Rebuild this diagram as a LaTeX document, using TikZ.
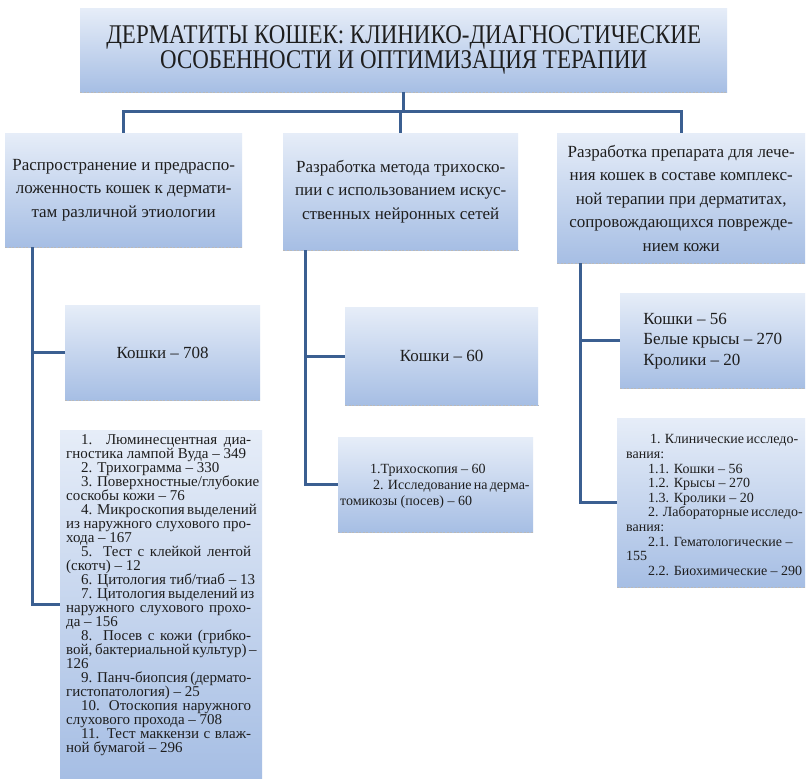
\documentclass[tikz,border=0pt]{standalone}
\usepackage{fontspec}
\setmainfont{Liberation Serif}
\newfontfamily\titlefont[FakeStretch=0.85]{Liberation Serif}
\definecolor{boxtop}{HTML}{E6EDF8}
\definecolor{boxbot}{HTML}{A6BEE4}
\definecolor{conn}{HTML}{3B5F91}
\definecolor{ink}{HTML}{1E1E1E}
\newcommand\myjust[2]{\makebox[#1][s]{#2}}
\lineskiplimit=-6pt\relax
\tikzset{
  box/.style={top color=boxtop, bottom color=boxbot, draw=none, inner sep=0pt, anchor=north west, text=ink},
  link/.style={draw=conn, line width=3pt},
  edge/.style={draw=gray!55, line width=1.2pt, dash pattern=on 2pt off 1.5pt},
  headtext/.style={align=center, font=\fontsize{17}{23.5}\selectfont},
  listtext/.style={anchor=north west, inner sep=0pt, align=left, text=ink},
}
\begin{document}
\begin{tikzpicture}[x=1pt,y=-1pt]
\useasboundingbox[fill=white] (0,0) rectangle (808,781);

% title
\node[box, minimum width=647pt, minimum height=84pt, align=center,
      font=\titlefont\fontsize{27}{25}\selectfont] (T) at (80,8)
  {ДЕРМАТИТЫ КОШЕК: КЛИНИКО-ДИАГНОСТИЧЕСКИЕ\\ОСОБЕННОСТИ И ОПТИМИЗАЦИЯ ТЕРАПИИ};

% headers
\node[box, headtext, minimum width=237pt, minimum height=114pt] (A) at (5,133)
  {Распространение и предраспо-\\ложенность кошек к дермати-\\там различной этиологии};
\node[box, headtext, minimum width=235pt, minimum height=117pt] (B) at (283,133)
  {Разработка метода трихоско-\\пии с использованием искус-\\ственных нейронных сетей};
\node[box, headtext, minimum width=248pt, minimum height=130pt] (C) at (557,133)
  {Разработка препарата для лече-\\ния кошек в составе комплекс-\\ной терапии при дерматитах,\\сопровождающихся поврежде-\\нием кожи};

% count boxes
\node[box, align=center, font=\fontsize{17}{20}\selectfont, minimum width=195pt, minimum height=95pt] (kA) at (65,305) {Кошки – 708};
\node[box, align=center, font=\fontsize{17}{20}\selectfont, minimum width=193pt, minimum height=98pt] (kB) at (345,307) {Кошки – 60};
\node[box, align=left, font=\fontsize{17}{20.5}\selectfont, minimum width=185pt, minimum height=95pt] (kC) at (620,293)
  {Кошки – 56\\Белые крысы – 270\\Кролики – 20};

% list boxes
\node[box, minimum width=202pt, minimum height=348pt] (LA) at (60,430) {};
\node[box, minimum width=195pt, minimum height=95pt] (LB) at (338,437) {};
\node[box, minimum width=188pt, minimum height=169pt] (LC) at (617,418) {};

\node[listtext, font=\fontsize{15}{14}\selectfont] (tA) at (66,434.5)
  {\myjust{185pt}{\hspace*{15pt}1. Люминесцентная диа-}\\
   гностика лампой Вуда – 349\\
   \hspace*{15pt}2. Трихограмма – 330\\
   \myjust{185pt}{\hspace*{15pt}3. Поверхностные/глубокие}\\
   соскобы кожи – 76\\
   \myjust{185pt}{\hspace*{15pt}4. Микроскопия выделений}\\
   \myjust{185pt}{из наружного слухового про-}\\
   хода – 167\\
   \myjust{185pt}{\hspace*{15pt}5. Тест с клейкой лентой}\\
   (скотч) – 12\\
   \hspace*{15pt}6. Цитология тиб/тиаб – 13\\
   \myjust{185pt}{\hspace*{15pt}7. Цитология выделений из}\\
   \myjust{185pt}{наружного слухового прохо-}\\
   да – 156\\
   \myjust{185pt}{\hspace*{15pt}8. Посев с кожи (грибко-}\\
   \myjust{185pt}{вой, бактериальной культур) –}\\
   126\\
   \myjust{185pt}{\hspace*{15pt}9. Панч-биопсия (дермато-}\\
   гистопатология) – 25\\
   \myjust{185pt}{\hspace*{15pt}10. Отоскопия наружного}\\
   слухового прохода – 708\\
   \myjust{185pt}{\hspace*{15pt}11. Тест маккензи с влаж-}\\
   ной бумагой – 296};

\node[listtext, font=\fontsize{14}{16}\selectfont] (tB) at (340,463.5)
  {\hspace*{30pt}1.Трихоскопия – 60\\
   \myjust{187pt}{\hspace*{33pt}2. Исследование на дерма-}\\
   томикозы (посев) – 60};

\node[listtext, font=\fontsize{14}{14.6}\selectfont] (tC) at (626,434.5)
  {\myjust{172pt}{\hspace*{24pt}1. Клинические исследо-}\\
   вания:\\
   \hspace*{22pt}1.1. Кошки – 56\\
   \hspace*{22pt}1.2. Крысы – 270\\
   \hspace*{22pt}1.3. Кролики – 20\\
   \myjust{172pt}{\hspace*{22pt}2. Лабораторные исследо-}\\
   вания:\\
   \hspace*{22pt}2.1. Гематологические –\\
   155\\
   \hspace*{22pt}2.2. Биохимические – 290};

% bottom edges
\foreach \n in {T,A,B,C,kA,kB,kC,LB,LC}
  \draw[edge] (\n.south west) -- (\n.south east);

% connectors
\coordinate (bar) at (0,112);
\draw[link] (T.south) -- (T.south |- bar);
\draw[link] (A.north) -- (A.north |- bar) -- (C.north |- bar) -- (C.north);
\draw[link] (B.north |- bar) -- (B.north);

\coordinate (sA) at ([xshift=27pt]A.south west);
\coordinate (sB) at ([xshift=22pt]B.south west);
\coordinate (sC) at ([xshift=23pt]C.south west);
\draw[link] (sA) |- (LA.west);
\draw[link] (kA.west) -- (kA.west -| sA);
\draw[link] (sB) |- (LB.west);
\draw[link] (kB.west) -- (kB.west -| sB);
\draw[link] (sC) |- (LC.west);
\draw[link] (kC.west) -- (kC.west -| sC);
\end{tikzpicture}
\end{document}
